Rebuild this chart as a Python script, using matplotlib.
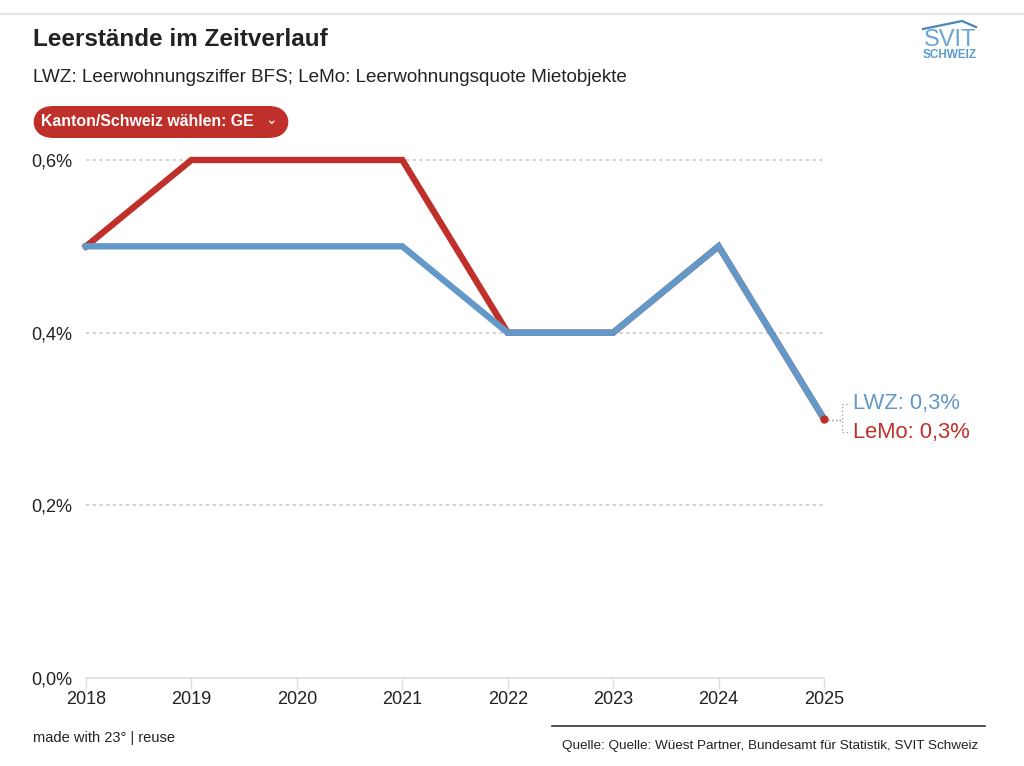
import matplotlib
matplotlib.use("Agg")
import matplotlib.pyplot as plt
from matplotlib.patches import FancyBboxPatch
from matplotlib.lines import Line2D

plt.rcParams['font.family'] = ['Liberation Sans', 'DejaVu Sans']

years = [2018, 2019, 2020, 2021, 2022, 2023, 2024, 2025]
lwz = [0.5, 0.5, 0.5, 0.5, 0.4, 0.4, 0.5, 0.3]
lemo = [0.5, 0.6, 0.6, 0.6, 0.4, 0.4, 0.5, 0.3]
yticks = [0.0, 0.2, 0.4, 0.6]
ytick_labels = ["0,0%", "0,2%", "0,4%", "0,6%"]

BLUE = "#6399c9"
RED = "#c0302b"
TXT = "#222222"

W, H = 1024, 766
fig = plt.figure(figsize=(W / 100, H / 100), dpi=100)

def fx(px):
    return px / W

def fy(py):
    return 1 - py / H

def fline(xs, ys, **kw):
    fig.lines.append(Line2D([fx(v) for v in xs], [fy(v) for v in ys],
                            transform=fig.transFigure, **kw))

ax = fig.add_axes([fx(86), fy(678), fx(824) - fx(86), fy(160) - fy(678)])
ax.set_xlim(2018, 2025)
ax.set_ylim(0, 0.6)
for s in ax.spines.values():
    s.set_visible(False)

for yv in yticks[1:]:
    ax.axhline(yv, color="#cccccc", lw=1.2, ls=(0, (2, 2)), zorder=1, clip_on=False)
ax.axhline(0, color="#dddddd", lw=1.2, zorder=1, clip_on=False)

ax.set_yticks(yticks)
ax.set_yticklabels(ytick_labels, fontsize=13, color=TXT)
ax.set_xticks(years)
ax.set_xticklabels([str(y) for y in years], fontsize=13, color=TXT)
ax.tick_params(axis='y', length=0, pad=10)
ax.tick_params(axis='x', length=8, color="#dddddd", width=1, pad=1)

ax.plot(years, lemo, color=RED, lw=4.6, solid_joinstyle='miter', zorder=3, clip_on=False)
ax.plot(years, lwz, color=BLUE, lw=4.6, solid_joinstyle='miter', zorder=4, clip_on=False)
ax.plot([years[-1]], [lemo[-1]], 'o', color=RED, ms=5, zorder=5, clip_on=False)

# end labels with dotted connectors
fline([828, 842, 842, 850], [420, 420, 404, 404], color="#999999", lw=0.9, ls=(0, (1, 2)))
fline([828, 842, 842, 850], [420, 420, 432, 432], color="#999999", lw=0.9, ls=(0, (1, 2)))
fig.text(fx(853), fy(404), "LWZ: 0,3%", color=BLUE, fontsize=15.8, va='center', ha='left')
fig.text(fx(853), fy(432), "LeMo: 0,3%", color=RED, fontsize=15.8, va='center', ha='left')

# header
fline([0, W], [14, 14], color="#e6e6e6", lw=1.5)
fig.text(fx(33), fy(40), "Leerstände im Zeitverlauf", fontsize=17.5, fontweight='bold',
         color=TXT, va='center', ha='left')
fig.text(fx(33), fy(77), "LWZ: Leerwohnungsziffer BFS; LeMo: Leerwohnungsquote Mietobjekte",
         fontsize=13.6, color=TXT, va='center', ha='left')

btn = FancyBboxPatch((fx(33), fy(138)), fx(289) - fx(33), fy(106) - fy(138),
                     boxstyle="round,pad=0,rounding_size=0.02", transform=fig.transFigure,
                     facecolor=RED, edgecolor='none', mutation_aspect=W / H)
fig.patches.append(btn)
fig.text(fx(41), fy(122), "Kanton/Schweiz wählen: GE", fontsize=11.4, fontweight='bold',
         color='white', va='center', ha='left')
fig.text(fx(271), fy(120), "⌄", fontsize=10, color='white', va='center', ha='center',
         family=['DejaVu Sans'])

# logo
fline([923, 962, 976], [29, 21, 27], color="#4a86b8", lw=1.6)
fig.text(fx(950), fy(40), "SVIT", fontsize=17, color="#6aa5d6", va='center', ha='center')
fig.text(fx(950), fy(55.5), "SCHWEIZ", fontsize=8.5, fontweight='bold', color="#5b9bd0",
         va='center', ha='center')

# footer
fig.text(fx(33), fy(738), "made with 23° | reuse", fontsize=10.5, color=TXT, va='center', ha='left')
fline([552, 985], [726, 726], color="#333333", lw=1.2)
fig.text(fx(978), fy(746), "Quelle: Quelle: Wüest Partner, Bundesamt für Statistik, SVIT Schweiz",
         fontsize=9.7, color=TXT, va='center', ha='right')

fig.savefig("out.png", dpi=100, facecolor='white')
